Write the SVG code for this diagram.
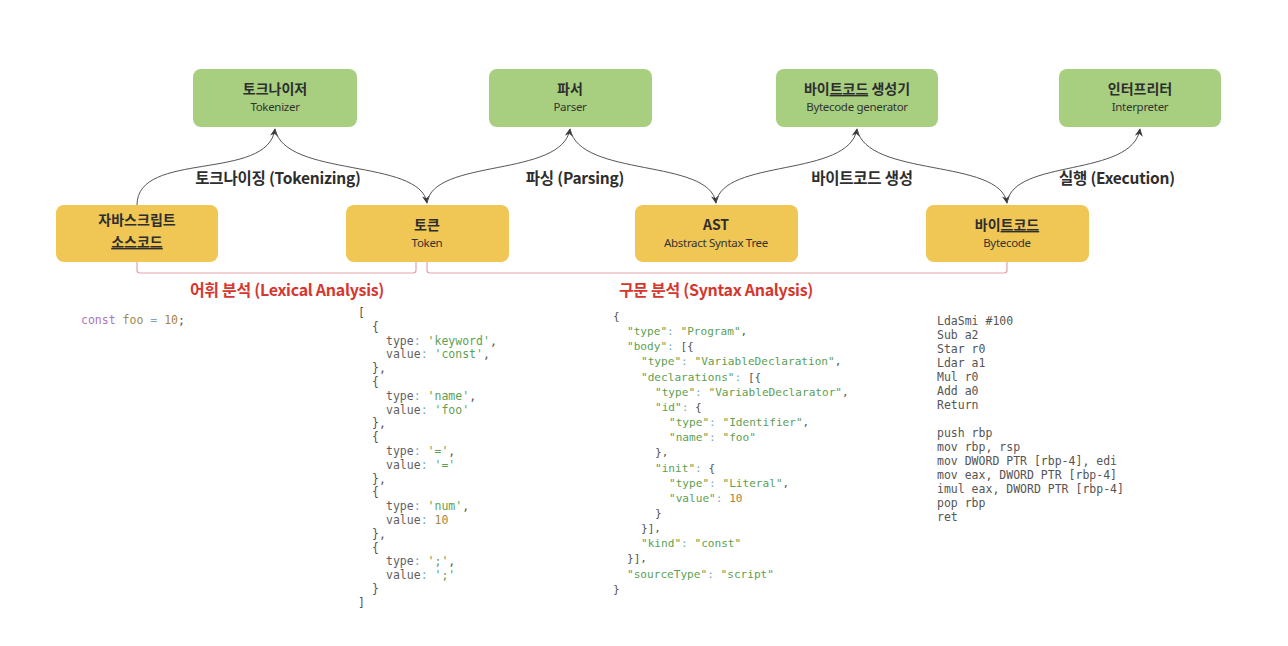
<svg xmlns="http://www.w3.org/2000/svg" width="1288" height="646" viewBox="0 0 1288 646">
<defs>
<marker id="arr" viewBox="0 0 10 10" refX="9" refY="5" markerWidth="8" markerHeight="8" markerUnits="userSpaceOnUse" orient="auto">
<path d="M0,0 L10,5 L0,10 L3,5 Z" fill="#3a3a3a"/>
</marker>
<style>
.green{fill:#A8CF7F}
.yellow{fill:#F0C655}
.t{font-family:"Noto Sans CJK KR","Noto Sans",sans-serif;font-weight:700;font-size:14px;fill:#2e2e2e;text-anchor:middle}
.s{font-family:"Noto Sans","Noto Sans CJK KR",sans-serif;font-size:11.5px;fill:#333;text-anchor:middle;letter-spacing:-0.3px}
.el{font-family:"Noto Sans CJK KR","Noto Sans",sans-serif;font-weight:700;font-size:15.5px;fill:#2e2e2e;text-anchor:middle;letter-spacing:-0.2px}
.red{font-family:"Noto Sans CJK KR","Noto Sans",sans-serif;font-weight:700;font-size:16px;fill:#D5372F;text-anchor:middle;letter-spacing:-0.3px}
.edge{fill:none;stroke:#555;stroke-width:1;marker-end:url(#arr)}
.br{fill:none;stroke:#E3A3AA;stroke-width:1.2}
.code{font-family:"DejaVu Sans Mono","Liberation Mono",monospace;font-size:11.5px;fill:#555}
.ast{font-family:"DejaVu Sans Mono","Liberation Mono",monospace;font-size:11.1px;fill:#555}
.k{fill:#5f5f5f}
.c{fill:#6FA9CC}
.g{fill:#5E9F52}
.n{fill:#A88440}
.p{fill:#A975B8}
.f{fill:#9E8A52}
.u{text-decoration:underline}
</style>
</defs>
<rect width="1288" height="646" fill="#ffffff"/>

<g id="connectors">
<path class="edge" d="M137,205 C137,150 268,182 275,129"/>
<path class="edge" d="M275,129 C285,178 420,158 427,203"/>
<path class="edge" d="M427,203 C433,158 562,178 570,129"/>
<path class="edge" d="M570,129 C580,178 710,158 716,203"/>
<path class="edge" d="M716,203 C722,158 849,178 857,129"/>
<path class="edge" d="M857,129 C867,178 1000,158 1007,203"/>
<path class="edge" d="M1007,203 C1013,158 1132,178 1140,129"/>
<path class="br" d="M137,262 V270 Q137,273 140,273 H413 Q416,273 416,270 V262"/>
<path class="br" d="M427,262 V270 Q427,273 430,273 H1004 Q1007,273 1007,270 V262"/>
</g>

<g id="edge-labels">
<text class="el" x="278" y="184">토크나이징 (Tokenizing)</text>
<text class="el" x="575" y="184">파싱 (Parsing)</text>
<text class="el" x="862" y="184">바이트코드 생성</text>
<text class="el" x="1117" y="184">실행 (Execution)</text>
<text class="red" x="287" y="296">어휘 분석 (Lexical Analysis)</text>
<text class="red" x="716" y="296">구문 분석 (Syntax Analysis)</text>
</g>

<g id="tokenizer">
<rect class="green" x="193" y="69" width="164" height="58" rx="8"/>
<text class="t" x="275" y="94">토크나이저</text>
<text class="s" x="275" y="111">Tokenizer</text>
</g>
<g id="parser">
<rect class="green" x="489" y="69" width="163" height="58" rx="8"/>
<text class="t" x="570" y="94">파서</text>
<text class="s" x="570" y="111">Parser</text>
</g>
<g id="bytecode-generator">
<rect class="green" x="776" y="69" width="162" height="58" rx="8"/>
<text class="t" x="857" y="94">바이<tspan class="u">트코드</tspan> 생성기</text>
<text class="s" x="857" y="111">Bytecode generator</text>
</g>
<g id="interpreter">
<rect class="green" x="1059" y="69" width="162" height="58" rx="8"/>
<text class="t" x="1140" y="94">인터프리터</text>
<text class="s" x="1140" y="111">Interpreter</text>
</g>

<g id="js-source">
<rect class="yellow" x="56" y="205" width="162" height="57" rx="8"/>
<text class="t" x="137" y="225">자바스크립트</text>
<text class="t u" x="137" y="247">소스코드</text>
</g>
<g id="token">
<rect class="yellow" x="346" y="205" width="163" height="57" rx="8"/>
<text class="t" x="427" y="230">토큰</text>
<text class="s" x="427" y="247">Token</text>
</g>
<g id="ast">
<rect class="yellow" x="635" y="205" width="163" height="57" rx="8"/>
<text class="t" x="716" y="230">AST</text>
<text class="s" x="716" y="247">Abstract Syntax Tree</text>
</g>
<g id="bytecode">
<rect class="yellow" x="926" y="205" width="163" height="57" rx="8"/>
<text class="t" x="1007" y="230">바이<tspan class="u">트코드</tspan></text>
<text class="s" x="1007" y="247">Bytecode</text>
</g>

<g id="source-code">
<text class="code" x="81" y="324"><tspan class="p">const</tspan> <tspan class="f">foo</tspan> <tspan class="c">=</tspan> <tspan class="n">10</tspan>;</text>
</g>

<g id="token-code" class="code">
<text x="358" y="317">[</text>
<text x="372" y="330.8">{</text>
<text x="386" y="344.6"><tspan class="k">type</tspan><tspan class="c">:</tspan> <tspan class="g">'keyword'</tspan>,</text>
<text x="386" y="358.4"><tspan class="k">value</tspan><tspan class="c">:</tspan> <tspan class="g">'const'</tspan>,</text>
<text x="372" y="372.2">},</text>
<text x="372" y="386">{</text>
<text x="386" y="399.8"><tspan class="k">type</tspan><tspan class="c">:</tspan> <tspan class="g">'name'</tspan>,</text>
<text x="386" y="413.6"><tspan class="k">value</tspan><tspan class="c">:</tspan> <tspan class="g">'foo'</tspan></text>
<text x="372" y="427.4">},</text>
<text x="372" y="441.2">{</text>
<text x="386" y="455"><tspan class="k">type</tspan><tspan class="c">:</tspan> <tspan class="g">'='</tspan>,</text>
<text x="386" y="468.8"><tspan class="k">value</tspan><tspan class="c">:</tspan> <tspan class="g">'='</tspan></text>
<text x="372" y="482.6">},</text>
<text x="372" y="496.4">{</text>
<text x="386" y="510.2"><tspan class="k">type</tspan><tspan class="c">:</tspan> <tspan class="g">'num'</tspan>,</text>
<text x="386" y="524"><tspan class="k">value</tspan><tspan class="c">:</tspan> <tspan class="n">10</tspan></text>
<text x="372" y="537.8">},</text>
<text x="372" y="551.6">{</text>
<text x="386" y="565.4"><tspan class="k">type</tspan><tspan class="c">:</tspan> <tspan class="g">';'</tspan>,</text>
<text x="386" y="579.2"><tspan class="k">value</tspan><tspan class="c">:</tspan> <tspan class="g">';'</tspan></text>
<text x="372" y="593">}</text>
<text x="358" y="606.8">]</text>
</g>

<g id="ast-code" class="ast">
<text x="613" y="320">{</text>
<text x="627" y="335"><tspan class="g">"type"</tspan><tspan class="c">:</tspan> <tspan class="g">"Program"</tspan>,</text>
<text x="627" y="350"><tspan class="g">"body"</tspan><tspan class="c">:</tspan> [{</text>
<text x="641" y="365"><tspan class="g">"type"</tspan><tspan class="c">:</tspan> <tspan class="g">"VariableDeclaration"</tspan>,</text>
<text x="641" y="380.5"><tspan class="g">"declarations"</tspan><tspan class="c">:</tspan> [{</text>
<text x="655" y="396"><tspan class="g">"type"</tspan><tspan class="c">:</tspan> <tspan class="g">"VariableDeclarator"</tspan>,</text>
<text x="655" y="411"><tspan class="g">"id"</tspan><tspan class="c">:</tspan> {</text>
<text x="669" y="426"><tspan class="g">"type"</tspan><tspan class="c">:</tspan> <tspan class="g">"Identifier"</tspan>,</text>
<text x="669" y="441"><tspan class="g">"name"</tspan><tspan class="c">:</tspan> <tspan class="g">"foo"</tspan></text>
<text x="655" y="456">},</text>
<text x="655" y="471.5"><tspan class="g">"init"</tspan><tspan class="c">:</tspan> {</text>
<text x="669" y="486.5"><tspan class="g">"type"</tspan><tspan class="c">:</tspan> <tspan class="g">"Literal"</tspan>,</text>
<text x="669" y="501.5"><tspan class="g">"value"</tspan><tspan class="c">:</tspan> <tspan class="n">10</tspan></text>
<text x="655" y="516.5">}</text>
<text x="641" y="531.5">}],</text>
<text x="641" y="547"><tspan class="g">"kind"</tspan><tspan class="c">:</tspan> <tspan class="g">"const"</tspan></text>
<text x="627" y="562">}],</text>
<text x="627" y="578"><tspan class="g">"sourceType"</tspan><tspan class="c">:</tspan> <tspan class="g">"script"</tspan></text>
<text x="613" y="593">}</text>
</g>

<g id="bytecode-code" class="code">
<text x="937" y="325">LdaSmi #100</text>
<text x="937" y="339">Sub a2</text>
<text x="937" y="353">Star r0</text>
<text x="937" y="367">Ldar a1</text>
<text x="937" y="381">Mul r0</text>
<text x="937" y="395">Add a0</text>
<text x="937" y="409">Return</text>
<text x="937" y="437">push rbp</text>
<text x="937" y="451">mov rbp, rsp</text>
<text x="937" y="465">mov DWORD PTR [rbp-4], edi</text>
<text x="937" y="479">mov eax, DWORD PTR [rbp-4]</text>
<text x="937" y="493">imul eax, DWORD PTR [rbp-4]</text>
<text x="937" y="507">pop rbp</text>
<text x="937" y="521">ret</text>
</g>
</svg>
